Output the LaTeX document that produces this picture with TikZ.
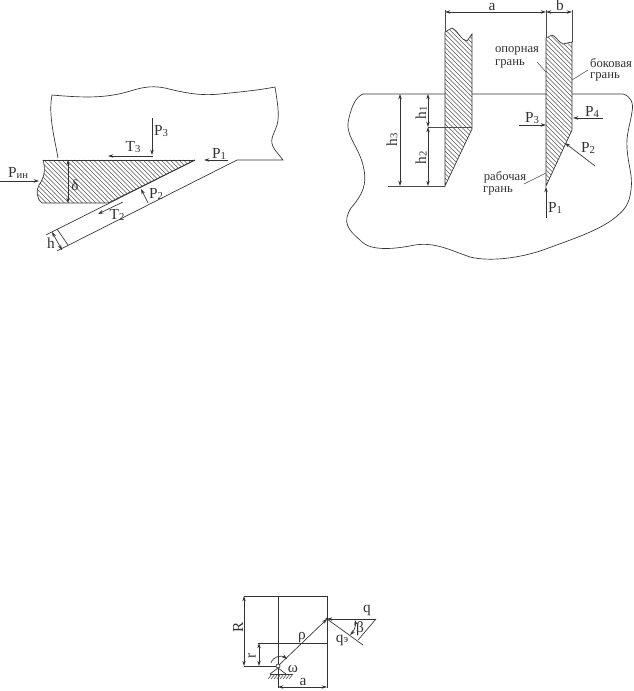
\documentclass[tikz,border=0pt]{standalone}
\usepackage{fontspec}
\setmainfont{Liberation Serif}
\usetikzlibrary{arrows.meta}
\tikzset{
 ln/.style={draw=black!80,line width=0.5pt},
 thn/.style={draw=black!70,line width=0.4pt},
 arr/.style={ln,-{Stealth[length=4pt,width=2.6pt]}},
 dbl/.style={ln,{Stealth[length=4pt,width=2.6pt]}-{Stealth[length=4pt,width=2.6pt]}},
 txt/.style={inner sep=0pt,font=\fontsize{11.5}{12}\selectfont,text=black!80},
 lbl/.style={inner sep=0pt,font=\fontsize{9.5}{11}\selectfont,align=center,text=black!80},
 hatch/.style={draw=black!65,line width=0.35pt}
}
\newcommand{\Sb}[2]{#1{\fontsize{8}{8}\selectfont\raisebox{-0.3pt}{#2}}}
\begin{document}
\begin{tikzpicture}[x=0.75pt,y=-0.75pt]
\useasboundingbox (0,0) rectangle (634,691);
\fill[white] (0,0) rectangle (634,691);

% ---- left figure
\draw[ln] (58,158) .. controls (55,140) and (48,115) .. (52,95)
  .. controls (85,98) and (105,98) .. (127,92)
  .. controls (140,88) and (150,85) .. (165,88)
  .. controls (185,93) and (200,96) .. (220,94)
  .. controls (240,92) and (260,90) .. (275,87)
  .. controls (277,100) and (280,115) .. (277,125)
  .. controls (274,135) and (268,140) .. (275,150)
  -- (283,160) -- (237,160) -- (57,251);
\draw[ln] (195,160) -- (46,235);
\draw[ln] (57,229) -- (68,245);
\begin{scope}
\clip (43,160) -- (195,160) -- (108,203) -- (42,203)
  .. controls (36,198) and (36,190) .. (39,185)
  .. controls (44,178) and (46,170) .. (43,160) -- cycle;
\foreach \i in {-20,-15.5,...,200}{\draw[hatch] (\i,150) -- (\i+70,220);}
\end{scope}
\draw[ln,line width=0.65pt] (43,160) -- (195,160);
\draw[ln] (195,160) -- (108,203) -- (42,203)
  .. controls (36,198) and (36,190) .. (39,185)
  .. controls (44,178) and (46,170) .. (43,160);
\coordinate (p3a) at (152,118); \coordinate (p3b) at (152,155);
\draw[arr] (p3a) -- (p3b);
\node[txt] (lP3) at (161,131) {\Sb{P}{3}};
\coordinate (t3a) at (153,156); \coordinate (t3b) at (108,156);
\draw[arr] (t3a) -- (t3b);
\node[txt] (lT3) at (133,147) {\Sb{T}{3}};
\coordinate (p1a) at (228,160); \coordinate (p1b) at (204,160);
\draw[arr] (p1a) -- (p1b);
\node[txt] (lP1) at (219,154) {\Sb{P}{1}};
\coordinate (pia) at (0,181); \coordinate (pib) at (39,181);
\draw[arr] (pia) -- (pib);
\node[txt] (lPi) at (18,173) {\Sb{P}{ин}};
\coordinate (da) at (68,160); \coordinate (db) at (68,203);
\draw[dbl] (da) -- (db);
\node[txt] (ld) at (75,185) {δ};
\coordinate (p2a) at (148,203); \coordinate (p2b) at (141,189);
\draw[arr] (p2a) -- (p2b);
\node[txt] (lP2) at (156,194) {\Sb{P}{2}};
\coordinate (t2a) at (123,202); \coordinate (t2b) at (98,214);
\draw[arr] (t2a) -- (t2b);
\node[txt] (lT2) at (117,215) {\Sb{T}{2}};
\coordinate (ha) at (52,232); \coordinate (hb) at (62,250);
\draw[dbl] (ha) -- (hb);
\node[txt] (lh) at (51,243) {h};

% ---- right figure: workpiece
\draw[ln] (363,94) -- (445,94) (472,94) -- (546,94) (572,94) -- (623,94)
  .. controls (630,96) and (634,102) .. (632,112)
  .. controls (630,125) and (626,135) .. (627,148)
  .. controls (628,165) and (633,175) .. (631,190)
  .. controls (629,205) and (625,210) .. (612,220)
  .. controls (595,232) and (570,240) .. (543,250)
  .. controls (520,258) and (490,262) .. (470,257)
  .. controls (450,250) and (435,242) .. (415,245)
  .. controls (395,249) and (370,252) .. (360,240)
  .. controls (348,230) and (342,222) .. (351,208)
  .. controls (362,195) and (368,185) .. (363,165)
  .. controls (358,145) and (344,135) .. (349,118)
  .. controls (352,105) and (356,97) .. (363,94);
% tool 1
\begin{scope}
\clip (445,32) -- (452,28) .. controls (458,30) and (460,40) .. (467,41) -- (472,34) -- (472,129) -- (445,186) -- cycle;
\foreach \i in {260,264.5,...,480}{\draw[hatch] (\i,20) -- (\i+170,190);}
\end{scope}
\draw[ln] (445,186) -- (445,32) -- (452,28) .. controls (458,30) and (460,40) .. (467,41) -- (472,34) -- (472,129) -- cycle;
% tool 2
\begin{scope}
\clip (546,38) -- (552,35) .. controls (556,36) and (558,42) .. (563,44) -- (572,42) -- (572,130) -- (546,186) -- cycle;
\foreach \i in {360,364.5,...,580}{\draw[hatch] (\i,20) -- (\i+170,190);}
\end{scope}
\draw[ln] (546,186) -- (546,38) -- (552,35) .. controls (556,36) and (558,42) .. (563,44) -- (572,42) -- (572,130) -- cycle;
% dimensions
\draw[thn] (445,10) -- (445,32) (546,10) -- (546,38) (572,10) -- (572,42);
\coordinate (aL) at (445,12); \coordinate (aR) at (546,12); \coordinate (bR) at (572,12);
\draw[dbl] (aL) -- (aR);
\draw[dbl] (aR) -- (bR);
\node[txt] (la) at (492,7) {a};
\node[txt] (lb) at (560,5) {b};
\draw[thn] (388,186) -- (445,186) (428,127) -- (472,127);
\coordinate (h3a) at (400,94); \coordinate (h3b) at (400,186);
\draw[dbl] (h3a) -- (h3b);
\coordinate (h1a) at (428,94); \coordinate (h1b) at (428,127); \coordinate (h2b) at (428,186);
\draw[dbl] (h1a) -- (h1b);
\draw[dbl] (h1b) -- (h2b);
\node[txt,rotate=90] (lh3) at (392,140) {\Sb{h}{3}};
\node[txt,rotate=90] (lh1) at (421,113) {\Sb{h}{1}};
\node[txt,rotate=90] (lh2) at (421,158) {\Sb{h}{2}};
% forces
\coordinate (rp3a) at (519,125); \coordinate (rp3b) at (546,125);
\draw[arr] (rp3a) -- (rp3b);
\node[txt] (rlP3) at (532,118) {\Sb{P}{3}};
\coordinate (rp4a) at (603,118); \coordinate (rp4b) at (573,118);
\draw[arr] (rp4a) -- (rp4b);
\node[txt] (rlP4) at (592,112) {\Sb{P}{4}};
\coordinate (rp2a) at (595,166); \coordinate (rp2b) at (565,143);
\draw[arr] (rp2a) -- (rp2b);
\node[txt] (rlP2) at (588,148) {\Sb{P}{2}};
\coordinate (rp1a) at (546,218); \coordinate (rp1b) at (546,187);
\draw[arr] (rp1a) -- (rp1b);
\node[txt] (rlP1) at (555,208) {\Sb{P}{1}};
% face labels
\node[lbl] (op1) at (517,51) {опорная};
\node[lbl] (op2) at (510,64) {грань};
\node[lbl] (bk1) at (611,63) {боковая};
\node[lbl] (bk2) at (605,77) {грань};
\node[lbl] (rb1) at (505,177) {рабочая};
\node[lbl] (rb2) at (498,191) {грань};
\coordinate (op3) at (537,62); \coordinate (op4) at (546,72);
\coordinate (bk3) at (588,70); \coordinate (bk4) at (572,80);
\coordinate (rb3) at (524,184); \coordinate (rb4) at (546,173);
\draw[thn] (op3) -- (op4) (bk3) -- (bk4) (rb3) -- (rb4);

% ---- bottom figure
\draw[ln] (244,596) -- (327,596) -- (327,688);
\draw[ln] (278,596) -- (278,688);
\draw[ln] (258,643) -- (327,643);
\draw[ln] (244,666) -- (278,666);
\coordinate (Ra) at (244,596); \coordinate (Rb) at (244,666);
\draw[dbl] (Ra) -- (Rb);
\coordinate (ra) at (259,643); \coordinate (rb) at (259,666);
\draw[dbl] (ra) -- (rb);
\coordinate (ba) at (278,687); \coordinate (bb) at (327,687);
\draw[dbl] (ba) -- (bb);
\coordinate (piv) at (278,666); \coordinate (tip) at (327,619);
\draw[arr] (piv) -- (tip);
\coordinate (qe) at (376,619); \coordinate (qf) at (363,645);
\draw[arr] (qe) -- (tip);
\draw[ln] (tip) -- (qf);
\draw[ln] (qe) -- (358,640);
\draw[dbl] (355,620) .. controls (356,625) and (354,631) .. (350,635);
\fill[black!80] (tip) circle (1.6);
\draw[ln,fill=white] (piv) circle (2);
\draw[ln] (270,674) -- (293,674);
\draw[ln] (270,674) -- (278,668) -- (286,674);
\foreach \i in {270,273,...,291}{\draw[thn] (\i+2,674) -- (\i-2,679);}
\draw[arr] (271,663) .. controls (273,656) and (282,655) .. (287,659);
\node[txt,rotate=90] (lR) at (238,627) {R};
\node[txt,rotate=90] (lr) at (252,656) {r};
\node[txt] (lrho) at (302,638) {ρ};
\node[txt] (lom) at (293,669) {ω};
\node[txt] (lba) at (303,682) {a};
\node[txt] (lq) at (367,610) {q};
\node[txt] (lbeta) at (360,629) {β};
\node[txt] (lqe) at (342,640) {\Sb{q}{э}};
\end{tikzpicture}
\end{document}
